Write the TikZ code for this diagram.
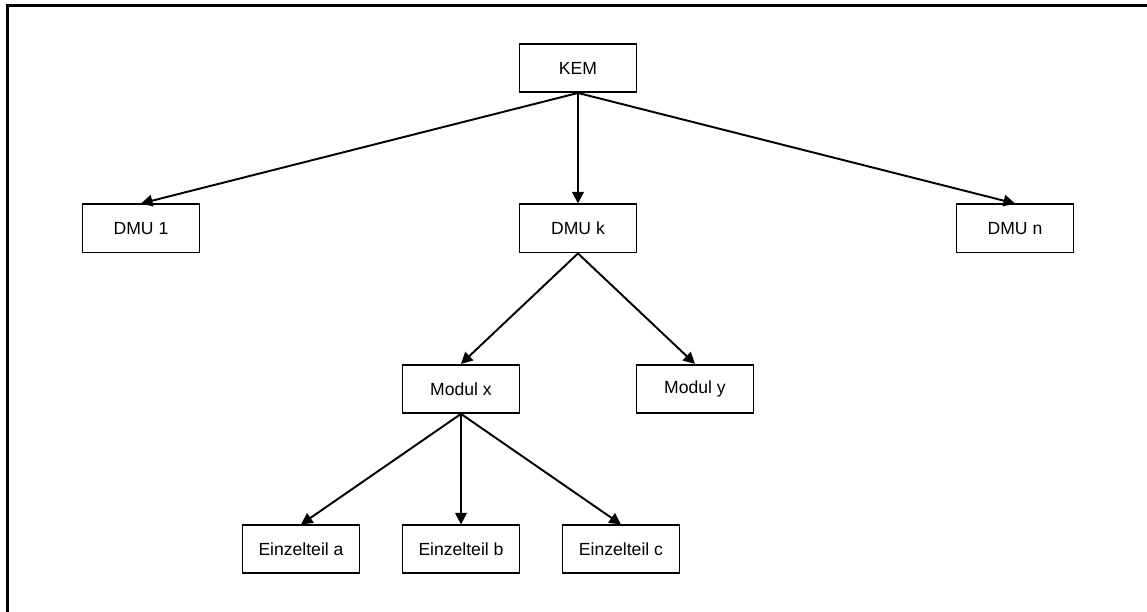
\documentclass[tikz,border=0pt]{standalone}
\usepackage{fontspec}
\setmainfont{Liberation Sans}
\usetikzlibrary{arrows.meta}

\begin{document}
\begin{tikzpicture}[
		-{Triangle[length=2.3mm,width=2.3mm]}, line width=1.1pt,
		level distance=2.71cm, growth parent anchor=south,
		parent anchor=south, child anchor=north,
		level 1/.style={sibling distance=8.74cm},
		level 2/.style={sibling distance=4.68cm},
		level 3/.style={sibling distance=3.2cm},
		box/.style={draw, minimum width=2.34cm, minimum height=0.96cm, inner sep=0pt, font=\fontsize{10}{12}\selectfont}
	]
	\useasboundingbox (-11.56,-10.88) rectangle (11.38,1.36);
	\draw[-, line width=1.7pt] (-11.41,-10.9) |- (11.4,1.25);
	\node[box] (kem) {KEM}
		child { node[box] (dmu1) {DMU 1} }
		child { node[box] (dmuk) {DMU k}
			child { node[box] (modx) {Modul x}
				child { node[box] (teila) {Einzelteil a} }
				child { node[box] (teilb) {Einzelteil b} }
				child { node[box] (teilc) {Einzelteil c} }
			}
			child { node[box] (mody) {Modul y} }
		}
		child { node[box] (dmun) {DMU n} };
\end{tikzpicture}
\end{document}
